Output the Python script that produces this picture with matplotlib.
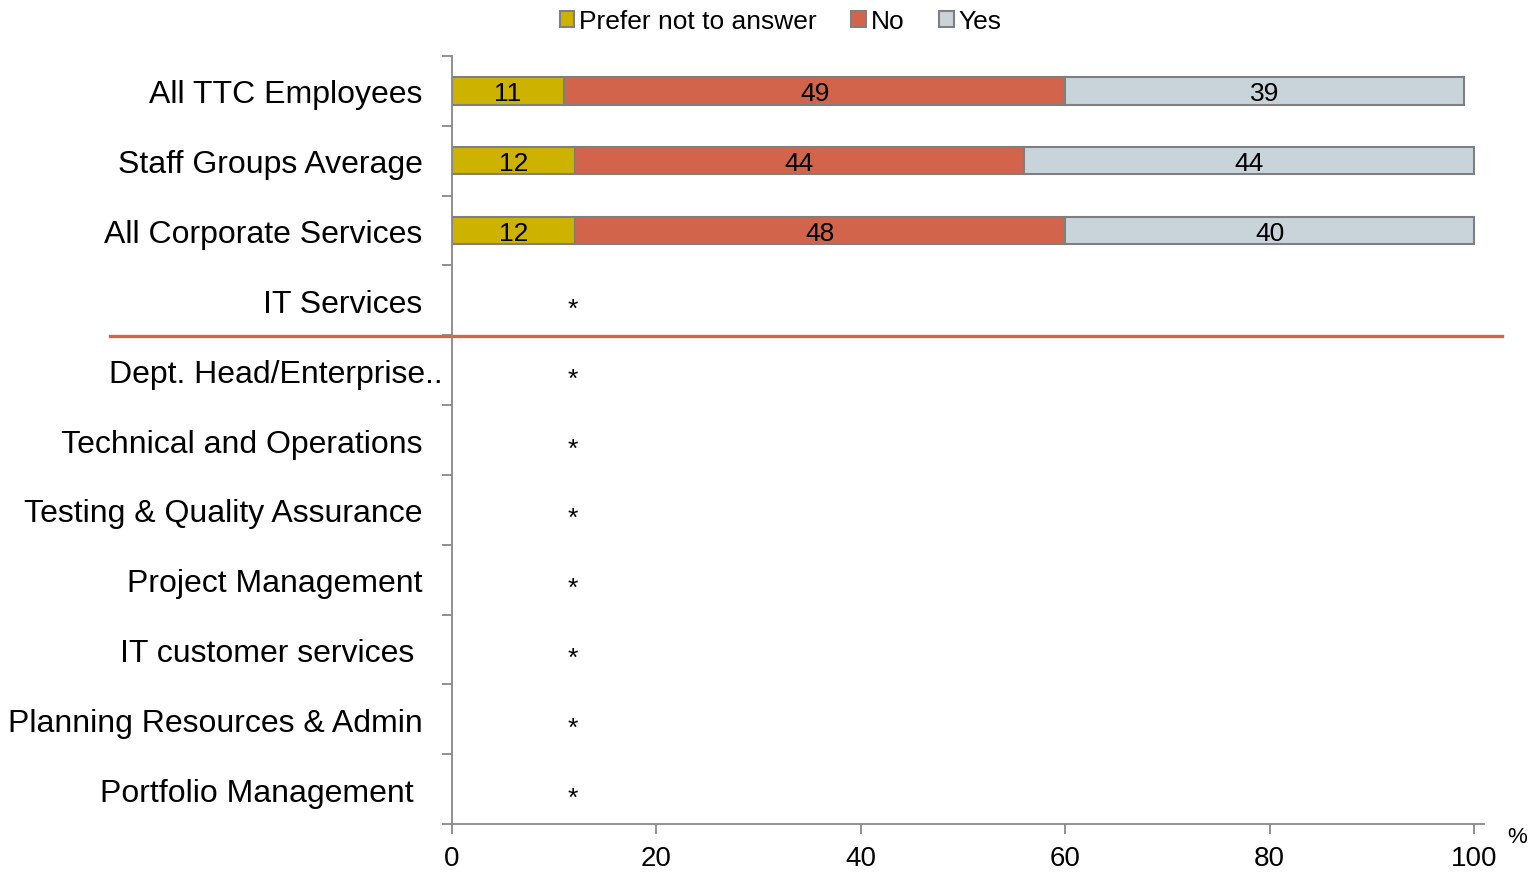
import numpy as np
import matplotlib.pyplot as plt
from matplotlib.transforms import ScaledTranslation

plt.rcParams['font.family'] = ['Liberation Sans', 'DejaVu Sans']

# groups, top to bottom
groups = ['All TTC Employees', 'Staff Groups Average', 'All Corporate Services',
          'IT Services', 'Dept. Head/Enterprise..', 'Technical and Operations',
          'Testing & Quality Assurance', 'Project Management', 'IT customer services ',
          'Planning Resources & Admin', 'Portfolio Management ']

# percentages (only the first three groups have enough responses)
prefer_not = [11, 12, 12]
no = [49, 44, 48]
yes = [39, 44, 40]

# groups with too few responses get a star instead of a bar
suppressed = groups[3:]
star_x = 11.8

series = [('Prefer not to answer', prefer_not, '#CDB300'),
          ('No', no, '#D2644B'),
          ('Yes', yes, '#C8D3DA')]

fig = plt.figure(figsize=(15.37, 8.79), dpi=100)
ax = fig.add_axes([0.294, 0.0614, 0.6716, 0.8737])

y = np.arange(len(groups))
ybar = y[:len(prefer_not)]
left = np.zeros(len(prefer_not))
for name, vals, col in series:
    vals = np.array(vals, dtype=float)
    ax.barh(ybar, vals, left=left, height=0.39, color=col, edgecolor='#7F7F7F',
            linewidth=1.5, label=name)
    for yi, l, v in zip(ybar, left, vals):
        ax.text(l + v / 2, yi + 0.03, f'{v:.0f}', ha='center', va='center', fontsize=19)
    left += vals

for g in suppressed:
    yi = groups.index(g)
    ax.text(star_x, yi + 0.12, '*', ha='center', va='center', fontsize=19)

ax.set_xlim(0, 101)
ax.set_ylim(len(groups) - 0.5, -0.5)
ax.set_xticks(np.arange(0, 101, 20))
ax.set_yticks(y)
ax.set_yticklabels(groups, fontsize=23)
ax.set_yticks(np.arange(-0.5, len(groups), 1), minor=True)
ax.tick_params(axis='y', which='major', length=0, pad=21)
ax.tick_params(axis='y', which='minor', length=7, color='#888888', width=1.3)
ax.tick_params(axis='x', length=7, color='#888888', width=1.3, labelsize=20, pad=8)

# the long label runs past the others
lab = ax.get_yticklabels()[4]
lab.set_transform(lab.get_transform() + ScaledTranslation(20 / 100, 0, fig.dpi_scale_trans))

for s in ['top', 'right']:
    ax.spines[s].set_visible(False)
for s in ['left', 'bottom']:
    ax.spines[s].set_color('#888888')
    ax.spines[s].set_linewidth(1.3)

# separator between the summary rows and the departments
ax.plot([0.0715, 0.977], [1 - 337 / 879] * 2, transform=fig.transFigure,
        color='#D9634A', linewidth=2.4, clip_on=False)

fig.text(0.987, 0.047, '%', fontsize=16, ha='center', va='center')

fig.legend(loc='center', bbox_to_anchor=(0.508, 0.975), ncol=3, frameon=False,
           fontsize=19, handlelength=0.55, handleheight=0.55, handletextpad=0.2,
           columnspacing=1.3, borderaxespad=0)

fig.savefig('out.png', dpi=100)
